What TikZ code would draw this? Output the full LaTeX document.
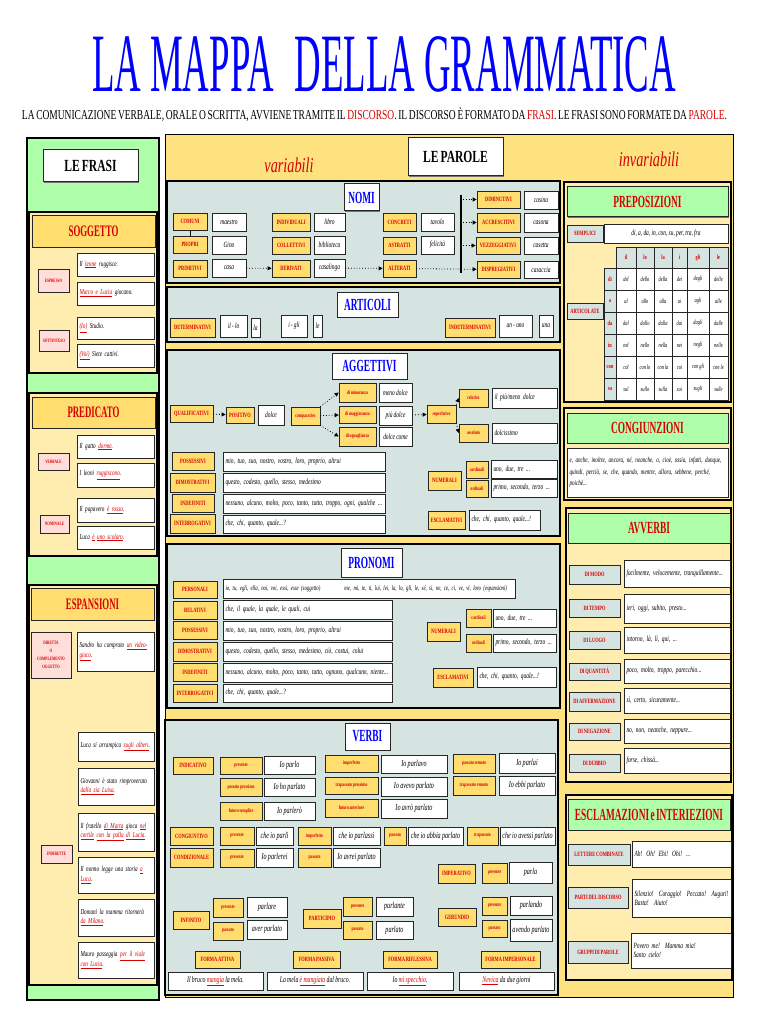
\documentclass[tikz,border=0pt]{standalone}
\usepackage{fontspec}
\setmainfont{Liberation Serif}[FakeStretch=0.68, WordSpace=0.7]
\newfontfamily\hdfont{Liberation Serif}[FakeStretch=0.55, WordSpace=0.6]
\usepackage{graphicx}
\usetikzlibrary{arrows.meta,shadows}
\definecolor{rosso}{RGB}{215,0,0}
\definecolor{verde}{RGB}{175,255,170}
\definecolor{giallo}{RGB}{255,226,128}
\definecolor{giallino}{RGB}{255,236,175}
\definecolor{gialloet}{RGB}{255,221,110}
\definecolor{grigio}{RGB}{214,228,225}
\definecolor{rosa}{RGB}{255,222,218}
\newcommand{\rdu}[1]{\textcolor{rosso}{\underline{#1}}}
\newcommand{\corsivo}[2]{\fontsize{#1}{#2}\selectfont\itshape\spaceskip=0.15em plus 0.08em minus 0.03em\relax}
\newcommand{\bx}[7]{\pgfmathsetmacro{\bw}{#5-#3}\pgfmathsetmacro{\bh}{#6-#4}%
  \node[#1, minimum width=\bw pt, minimum height=\bh pt] (#2) at ({(#3+#5)/2},{(#4+#6)/2}) {#7};}
\newcommand{\bxl}[7]{\pgfmathsetmacro{\bw}{#5-#3-5}\pgfmathsetmacro{\bh}{#6-#4}%
  \node[#1, align=left, inner xsep=2.5pt, text width=\bw pt, minimum height=\bh pt] (#2) at ({(#3+#5)/2},{(#4+#6)/2}) {#7};}

\begin{document}
\begin{tikzpicture}[x=1pt, y=-1pt,
  ombra/.style={drop shadow={shadow xshift=1pt, shadow yshift=-1pt, opacity=1, fill=black!55}},
  pannello/.style={draw=black, line width=1.2pt, ombra},
  etic/.style={draw=black!85, line width=0.7pt, fill=gialloet, text=rosso, inner sep=0pt, align=center, ombra, font=\fontsize{6.5}{7}\selectfont\bfseries},
  eticm/.style={etic, font=\fontsize{5.5}{6}\selectfont\bfseries},
  eticr/.style={etic, fill=rosa, font=\fontsize{5}{8}\selectfont\bfseries},
  eticg/.style={etic, fill=grigio, font=\fontsize{6.5}{7}\selectfont\bfseries},
  cella/.style={draw=black!85, line width=0.8pt, fill=grigio, text=rosso, inner sep=0pt, font=\fontsize{6.5}{7}\selectfont\bfseries},
  casella/.style={cella, fill=white, text=black, font=\corsivo{6.5}{7}},
  bianco/.style={draw=black!85, line width=0.7pt, fill=white, inner sep=0pt, align=center, ombra, font=\corsivo{8}{9}},
  biancov/.style={bianco, font=\corsivo{9}{10}},
  forma/.style={bianco, font=\corsivo{8.5}{9}},
  esempio/.style={bianco, font=\corsivo{7.6}{9.5}},
  testo/.style={bianco, font=\corsivo{7.5}{11.5}},
  titbox/.style={bianco, line width=1pt, font=\fontsize{17}{17}\selectfont\bfseries},
  sezione/.style={bianco, line width=1pt, text=blue, font=\hdfont\fontsize{17}{17}\selectfont\bfseries},
  fascia/.style={etic, line width=1pt, font=\hdfont\fontsize{16}{16}\selectfont\bfseries},
  fasciav/.style={fascia, fill=verde, font=\hdfont\fontsize{17}{17}\selectfont\bfseries},
  freccia/.style={dotted, line width=0.8pt, -{Triangle[length=4pt, width=4pt]}}]
  \useasboundingbox (0,0) rectangle (768,1024);
  \fill[white] (0,0) rectangle (768,1024);
  \node[anchor=base, text=blue, inner sep=0pt] (titolo) at (384,92)
    {\resizebox{584pt}{\height}{\fontsize{83}{83}\selectfont LA\hspace{14pt}MAPPA\hspace{32pt}DELLA\hspace{14pt}GRAMMATICA}};
  \node[anchor=base, inner sep=0pt] (intro) at (374.5,120)
    {\resizebox{705pt}{\height}{\fontsize{13.6}{14}\selectfont LA COMUNICAZIONE VERBALE, ORALE O SCRITTA, AVVIENE TRAMITE IL \textcolor{rosso}{DISCORSO}. IL DISCORSO È FORMATO DA \textcolor{rosso}{FRASI}. LE FRASI SONO FORMATE DA \textcolor{rosso}{PAROLE}.}};

  \draw[pannello, fill=verde] (27,138) rectangle (159,1000);
  \bx{titbox}{frasi}{43}{150}{138}{182}{LE FRASI}
  \draw[pannello, fill=giallino] (29,212) rectangle (157,373);
  \bx{fascia}{sogg}{32}{216}{155}{247}{SOGGETTO}
  \bx{eticr}{espr}{38}{269}{69}{292}{ESPRESSO}
  \bx{eticr}{sott}{39}{330}{69}{351}{SOTTINTESO}
  \bxl{esempio}{s1}{77}{253}{154}{276}{Il \rdu{leone} ruggisce.}
  \bxl{esempio}{s2}{77}{282}{154}{305}{\rdu{Marco e Lucia} giocano.}
  \bxl{esempio}{s3}{77}{317}{154}{339}{\rdu{(Io)} Studio.}
  \bxl{esempio}{s4}{77}{344}{154}{367}{\rdu{(Voi)} Siete cattivi.}
  \draw[pannello, fill=giallino] (29,393) rectangle (157,556);
  \bx{fascia}{pred}{32}{397}{155}{428}{PREDICATO}
  \bx{eticr}{verb}{38}{453}{69}{470}{VERBALE}
  \bx{eticr}{nomin}{40}{515}{69}{533}{NOMINALE}
  \bxl{esempio}{p1}{77}{435}{154}{458}{Il gatto \rdu{dorme}.}
  \bxl{esempio}{p2}{77}{463}{154}{487}{I leoni \rdu{ruggiscono}.}
  \bxl{esempio}{p3}{77}{498}{154}{522}{Il papavero \rdu{è rosso}.}
  \bxl{esempio}{p4}{77}{526}{154}{549}{Luca \rdu{è} \rdu{uno scolaro}.}
  \draw[pannello, fill=giallino] (29,585) rectangle (157,985);
  \bx{fascia}{espan}{31}{588}{154}{620}{ESPANSIONI}
  \bx{eticr}{dirett}{31}{632}{71}{678}{DIRETTA\\O\\COMPLEMENTO\\OGGETTO}
  \bx{eticr}{indir}{41}{845}{72}{863}{INDIRETTE}
  \bxl{esempio}{e1}{77}{632}{154}{671}{Sandro ha comprato \rdu{un video-}\\\rdu{gioco}.}
  \bxl{esempio}{e2}{78}{732}{154}{761}{Luca si arrampica \rdu{sugli alberi}.}
  \bxl{esempio}{e3}{78}{768}{154}{805}{Giovanni è stato rimproverato\\\rdu{dalla zia Luisa}.}
  \bxl{esempio}{e4}{78}{813}{154}{851}{Il fratello \rdu{di Marta} gioca \rdu{nel}\\\rdu{cortile} \rdu{con la palla} \rdu{di Lucia}.}
  \bxl{esempio}{e5}{78}{857}{154}{893}{Il nonno legge una storia \rdu{a}\\\rdu{Luca}.}
  \bxl{esempio}{e6}{78}{899}{154}{936}{Domani la mamma ritornerà\\\rdu{da Milano}.}
  \bxl{esempio}{e7}{78}{942}{154}{978}{Mauro passeggia \rdu{per il viale}\\\rdu{con Lucia}.}

  \draw[pannello, line width=1pt, fill=giallo] (165,135) rectangle (733,997);
  \node[text=rosso, font=\corsivo{21}{21}] (variab) at (289,165) {variabili};
  \node[text=rosso, font=\corsivo{21}{21}] (invariab) at (649,159) {invariabili};
  \bx{titbox}{parole}{408}{138}{503}{176}{LE PAROLE}

  \draw[pannello, fill=grigio] (167,181) rectangle (560,283);
  \bx{sezione}{nomi}{344}{184}{379}{211}{NOMI}
  \bx{etic}{comuni}{173}{213}{207}{230}{COMUNI}
  \bx{etic}{propri}{173}{236}{207}{253}{PROPRI}
  \bx{etic}{primit}{173}{260}{207}{277}{PRIMITIVI}
  \bx{bianco}{maestro}{212}{213}{246}{231}{maestro}
  \bx{bianco}{gino}{212}{236}{246}{254}{Gino}
  \bx{bianco}{casa}{212}{259}{246}{277}{casa}
  \bx{etic}{indiv}{272}{213}{310}{231}{INDIVIDUALI}
  \bx{etic}{collet}{272}{237}{310}{254}{COLLETTIVI}
  \bx{etic}{deriv}{272}{260}{310}{277}{DERIVATI}
  \bx{bianco}{libro}{314}{213}{345}{231}{libro}
  \bx{bianco}{bibl}{314}{236}{345}{254}{biblioteca}
  \bx{bianco}{casal}{314}{259}{345}{277}{casalinga}
  \bx{etic}{concr}{383}{213}{416}{231}{CONCRETI}
  \bx{etic}{astr}{383}{237}{416}{254}{ASTRATTI}
  \bx{etic}{alter}{383}{260}{416}{277}{ALTERATI}
  \bx{bianco}{tavolo}{421}{213}{454}{231}{tavolo}
  \bx{bianco}{felic}{421}{236}{454}{254}{felicità}
  \bx{etic}{dimin}{477}{191}{520}{208}{DIMINUTIVI}
  \bx{etic}{accr}{477}{213}{520}{232}{ACCRESCITIVI}
  \bx{etic}{vezz}{476}{237}{520}{254}{VEZZEGGIATIVI}
  \bx{etic}{dispr}{477}{261}{520}{278}{DISPREGIATIVI}
  \bx{bianco}{casina}{524}{191}{558}{209}{casina}
  \bx{bianco}{casona}{524}{213}{558}{232}{casona}
  \bx{bianco}{casetta}{524}{237}{558}{254}{casetta}
  \bx{bianco}{casaccia}{524}{261}{558}{278}{casaccia}
  \coordinate (barsu) at (461,195);
  \coordinate (bargiu) at (461,273);
  \draw[line width=1.2pt] (barsu) -- (bargiu);
  \draw[line width=0.8pt] (comuni) -- (propri);
  \draw[freccia] (casa) -- (deriv);
  \draw[freccia] (casal) -- (alter);
  \draw[freccia] (alter) -- (dispr);
  \draw[freccia] ([xshift=2pt]barsu |- dimin) -- (dimin);
  \draw[freccia] ([xshift=2pt]barsu |- accr) -- (accr);
  \draw[freccia] ([xshift=2pt]barsu |- vezz) -- (vezz);

  \draw[pannello, fill=grigio] (167,287) rectangle (560,342);
  \bx{sezione}{artic}{337}{292}{398}{317}{ARTICOLI}
  \bx{etic}{determ}{170}{318}{215}{337}{DETERMINATIVI}
  \bx{bianco}{illo}{220}{315}{247}{337}{il - lo}
  \bx{bianco}{la}{251}{318}{260}{337}{la}
  \bx{bianco}{igli}{281}{315}{307}{337}{i - gli}
  \bx{bianco}{le}{313}{315}{322}{337}{le}
  \bx{etic}{indet}{445}{318}{495}{337}{INDETERMINATIVI}
  \bx{bianco}{ununo}{499}{315}{532}{337}{un - uno}
  \bx{bianco}{una}{539}{315}{553}{337}{una}

  \draw[pannello, fill=grigio] (167,350) rectangle (560,536);
  \bx{sezione}{agg}{332}{353}{407}{379}{AGGETTIVI}
  \bx{etic}{qualif}{170}{405}{213}{422}{QUALIFICATIVI}
  \bx{etic}{posit}{226}{407}{254}{423}{POSITIVO}
  \bx{bianco}{dolce}{258}{405}{284}{425}{dolce}
  \bx{eticm}{compar}{291}{407}{320}{425}{comparativo}
  \bx{eticm}{minor}{339}{383}{376}{402}{di minoranza}
  \bx{bianco}{menod}{379}{383}{412}{402}{meno dolce}
  \bx{eticm}{maggi}{339}{406}{376}{423}{di maggioranza}
  \bx{bianco}{piud}{379}{406}{412}{425}{più dolce}
  \bx{eticm}{ugua}{339}{427}{376}{446}{di uguaglianza}
  \bx{bianco}{dolcec}{379}{427}{412}{446}{dolce come}
  \bx{eticm}{superl}{427}{405}{456}{423}{superlativo}
  \bx{eticm}{relat}{459}{389}{488}{407}{relativo}
  \bxl{bianco}{piumeno}{492}{388}{557}{408}{il più/meno dolce}
  \bx{eticm}{assol}{459}{424}{488}{442}{assoluto}
  \bxl{bianco}{dolciss}{492}{423}{557}{443}{dolcissimo}
  \draw[freccia] (qualif) -- (posit);
  \draw[freccia] (compar.north east) -- (minor.west);
  \draw[freccia] (compar) -- (maggi);
  \draw[freccia] (compar.south east) -- (ugua.west);
  \draw[freccia] (piud) -- (superl);
  \draw[freccia] (superl.north east) -- (relat.west);
  \draw[freccia] (superl.south east) -- (assol.west);
  \bx{etic}{apos}{172}{452}{214}{470}{POSSESSIVI}
  \bxl{bianco}{aposw}{223}{452}{385}{471}{mio, tuo, suo, nostro, vostro, loro, proprio, altrui}
  \bx{etic}{adim}{170}{473}{215}{492}{DIMOSTRATIVI}
  \bxl{bianco}{adimw}{223}{473}{385}{492}{questo, codesto, quello, stesso, medesimo}
  \bx{etic}{aind}{172}{494}{214}{512}{INDEFINITI}
  \bxl{bianco}{aindw}{223}{494}{385}{513}{nessuno, alcuno, molto, poco, tanto, tutto, troppo, ogni, qualche ...}
  \bx{etic}{aint}{170}{514}{215}{533}{INTERROGATIVI}
  \bxl{bianco}{aintw}{223}{515}{385}{533}{che, chi, quanto, quale...?}
  \bx{eticm}{acard}{466}{461}{488}{478}{cardinali}
  \bxl{bianco}{acardw}{491}{460}{557}{478}{uno, due, tre ...}
  \bx{etic}{anum}{428}{471}{461}{490}{NUMERALI}
  \bx{eticm}{aord}{466}{480}{488}{497}{ordinali}
  \bxl{bianco}{aordw}{491}{479}{557}{497}{primo, secondo, terzo ...}
  \bx{etic}{aescl}{428}{511}{465}{529}{ESCLAMATIVI}
  \bxl{bianco}{aesclw}{469}{510}{540}{530}{che, chi, quanto, quale...!}

  \draw[pannello, fill=grigio] (167,544) rectangle (560,708);
  \bx{sezione}{pron}{341}{548}{402}{577}{PRONOMI}
  \bx{etic}{ppers}{173}{581}{217}{598}{PERSONALI}
  \bxl{bianco, font=\corsivo{7}{8}}{ppersw}{223}{579}{515}{598}{io, tu, egli, ella, noi, voi, essi, esse (soggetto)\hspace{24pt}me, mi, te, ti, lui, lei, la, lo, gli, le, sé, si, ne, ce, ci, ve, vi, loro (espansioni)}
  \bx{etic}{prel}{173}{601}{217}{619}{RELATIVI}
  \bxl{bianco}{prelw}{223}{600}{392}{619}{che, il quale, la quale, le quali, cui}
  \bx{etic}{ppos}{173}{621}{217}{639}{POSSESSIVI}
  \bxl{bianco}{pposw}{223}{621}{392}{640}{mio, tuo, suo, nostro, vostro, loro, proprio, altrui}
  \bx{etic}{pdim}{173}{642}{217}{661}{DIMOSTRATIVI}
  \bxl{bianco}{pdimw}{223}{642}{392}{661}{questo, codesto, quello, stesso, medesimo, ciò, costui, colui}
  \bx{etic}{pind}{173}{663}{217}{681}{INDEFINITI}
  \bxl{bianco}{pindw}{223}{663}{392}{682}{nessuno, alcuno, molto, poco, tanto, tutto, ognuno, qualcuno, niente...}
  \bx{etic}{pint}{173}{684}{217}{702}{INTERROGATIVI}
  \bxl{bianco}{pintw}{223}{684}{392}{702}{che, chi, quanto, quale...?}
  \bx{eticm}{pcard}{466}{609}{491}{627}{cardinali}
  \bxl{bianco}{pcardw}{493}{609}{556}{627}{uno, due, tre ...}
  \bx{etic}{pnum}{427}{622}{460}{641}{NUMERALI}
  \bx{eticm}{pord}{466}{634}{491}{652}{ordinali}
  \bxl{bianco}{pordw}{493}{634}{556}{652}{primo, secondo, terzo ...}
  \bx{etic}{pescl}{433}{668}{473}{687}{ESCLAMATIVI}
  \bxl{bianco}{pesclw}{477}{667}{556}{687}{che, chi, quanto, quale...!}

  \draw[pannello, fill=grigio] (165,720) rectangle (558,995);
  \bx{sezione}{verbi}{345}{723}{390}{750}{VERBI}
  \bx{etic}{indic}{173}{757}{213}{774}{INDICATIVO}
  \bx{eticm}{ipres}{220}{757}{262}{774}{presente}
  \bx{biancov}{ipresw}{264}{756}{315}{774}{Io parlo}
  \bx{eticm}{ipp}{220}{778}{262}{796}{passato prossimo}
  \bx{biancov}{ippw}{264}{778}{315}{796}{Io ho parlato}
  \bx{eticm}{ifs}{220}{802}{262}{820}{futuro semplice}
  \bx{biancov}{ifsw}{264}{802}{315}{820}{Io parlerò}
  \bx{eticm}{iimp}{325}{755}{378}{772}{imperfetto}
  \bx{biancov}{iimpw}{381}{755}{447}{773}{Io parlavo}
  \bx{eticm}{itp}{325}{777}{378}{794}{trapassato prossimo}
  \bx{biancov}{itpw}{381}{777}{447}{796}{Io avevo parlato}
  \bx{eticm}{ifa}{325}{799}{378}{817}{futuro anteriore}
  \bx{biancov}{ifaw}{381}{799}{447}{818}{Io avrò parlato}
  \bx{eticm}{ipr}{453}{754}{495}{773}{passato remoto}
  \bx{biancov}{iprw}{499}{753}{555}{773}{Io parlai}
  \bx{eticm}{itr}{453}{776}{495}{795}{trapassato remoto}
  \bx{biancov}{itrw}{499}{776}{555}{795}{Io ebbi parlato}
  \bx{etic}{cong}{170}{827}{213}{845}{CONGIUNTIVO}
  \bx{eticm}{cpres}{220}{827}{254}{845}{presente}
  \bx{biancov}{cpresw}{256}{827}{293}{845}{che io parli}
  \bx{eticm}{cimp}{298}{827}{331}{845}{imperfetto}
  \bx{biancov}{cimpw}{333}{827}{380}{845}{che io parlassi}
  \bx{eticm}{cpass}{384}{827}{406}{845}{passato}
  \bx{biancov}{cpassw}{408}{827}{463}{845}{che io abbia parlato}
  \bx{eticm}{ctrap}{467}{827}{498}{845}{trapassato}
  \bx{biancov}{ctrapw}{500}{827}{555}{845}{che io avessi parlato}
  \bx{etic}{cond}{170}{848}{213}{867}{CONDIZIONALE}
  \bx{eticm}{dpres}{220}{849}{254}{867}{presente}
  \bx{biancov}{dpresw}{256}{848}{293}{867}{Io parlerei}
  \bx{eticm}{dpass}{298}{848}{331}{867}{passato}
  \bx{biancov}{dpassw}{333}{848}{380}{867}{Io avrei parlato}
  \bx{etic}{imper}{438}{864}{475}{883}{IMPERATIVO}
  \bx{eticm}{mpres}{482}{863}{507}{883}{presente}
  \bx{biancov}{mpresw}{509}{862}{552}{883}{parla}
  \bx{etic}{infin}{173}{911}{209}{929}{INFINITO}
  \bx{eticm}{npres}{213}{898}{243}{917}{presente}
  \bx{biancov}{npresw}{247}{897}{287}{917}{parlare}
  \bx{eticm}{npass}{213}{922}{243}{940}{passato}
  \bx{biancov}{npassw}{247}{920}{287}{939}{aver parlato}
  \bx{etic}{partic}{303}{909}{341}{928}{PARTICIPIO}
  \bx{eticm}{tpres}{343}{897}{372}{916}{presente}
  \bx{biancov}{tpresw}{376}{897}{413}{916}{parlante}
  \bx{eticm}{tpass}{343}{921}{372}{939}{passato}
  \bx{biancov}{tpassw}{376}{921}{413}{939}{parlato}
  \bx{etic}{gerun}{438}{908}{476}{926}{GERUNDIO}
  \bx{eticm}{gpres}{482}{897}{507}{915}{presente}
  \bx{biancov}{gpresw}{510}{896}{552}{915}{parlando}
  \bx{eticm}{gpass}{482}{920}{507}{937}{passato}
  \bx{biancov}{gpassw}{510}{919}{552}{941}{avendo parlato}
  \bx{etic}{fatt}{195}{951}{240}{968}{FORMA ATTIVA}
  \bx{etic}{fpas}{293}{951}{340}{968}{FORMA PASSIVA}
  \bx{etic}{frif}{383}{951}{437}{968}{FORMA RIFLESSIVA}
  \bx{etic}{fimp}{481}{951}{540}{968}{FORMA IMPERSONALE}
  \bx{forma}{fattw}{168}{972}{263}{990}{Il bruco \rdu{mangia} la mela.}
  \bx{forma}{fpasw}{267}{972}{363}{990}{La mela \rdu{è mangiata} dal bruco.}
  \bx{forma}{frifw}{367}{972}{453}{990}{Io \rdu{mi specchio}.}
  \bx{forma}{fimpw}{459}{972}{554}{990}{\rdu{Nevica} da due giorni}

  \draw[pannello, fill=giallino] (564,182) rectangle (731,402);
  \bx{fasciav}{prep}{567}{187}{728}{217}{PREPOSIZIONI}
  \bx{eticg}{sempl}{567}{225}{603}{242}{SEMPLICI}
  \bx{bianco}{semplw}{604}{224}{728}{243}{di, a, da, in, con, su, per, tra, fra}
  \bx{eticg}{artcl}{567}{303}{603}{319}{ARTICOLATE}
  \foreach \h [count=\ci] in {il,lo,la,i,gli,le}{
    \pgfmathsetmacro{\xa}{{616,636,654,672,687,709,728}[\ci-1]}
    \pgfmathsetmacro{\xb}{{616,636,654,672,687,709,728}[\ci]}
    \bx{cella}{h\ci}{\xa}{247}{\xb}{268}{\h}
  }
  \foreach \p/\ws [count=\ri] in {di/{del,dello,della,dei,degli,delle}, a/{al,allo,alla,ai,agli,alle}, da/{dal,dallo,dalla,dai,dagli,dalle}, in/{nel,nello,nella,nei,negli,nelle}, con/{col,con lo,con la,coi,con gli,con le}, su/{sul,sullo,sulla,sui,sugli,sulle}}{
    \pgfmathsetmacro{\ya}{268+22*(\ri-1)}
    \pgfmathsetmacro{\yb}{\ya+22}
    \bx{cella}{r\ri}{604}{\ya}{616}{\yb}{\p}
    \foreach \w [count=\ci] in \ws {
      \pgfmathsetmacro{\xa}{{616,636,654,672,687,709,728}[\ci-1]}
      \pgfmathsetmacro{\xb}{{616,636,654,672,687,709,728}[\ci]}
      \bx{casella}{c\ri-\ci}{\xa}{\ya}{\xb}{\yb}{\w}
    }
  }

  \draw[pannello, fill=giallino] (564,408) rectangle (731,500);
  \bx{fasciav}{congz}{567}{413}{728}{443}{CONGIUNZIONI}
  \bxl{testo}{congw}{567}{448}{728}{497}{e, anche, inoltre, ancora, né, neanche, o, cioè, ossia, infatti, dunque,\\ quindi, perciò, se, che, quando, mentre, allora, sebbene, perché,\\ poiché...}

  \draw[pannello, fill=giallino] (566,508) rectangle (731,782);
  \bx{fasciav}{avv}{568}{513}{730}{543}{AVVERBI}
  \bx{eticg}{amodo}{569}{565}{620}{584}{DI MODO}
  \bxl{bianco}{amodow}{624}{560}{730}{587}{facilmente, velocemente, tranquillamente...}
  \bx{eticg}{atempo}{569}{599}{620}{617}{DI TEMPO}
  \bxl{bianco}{atempow}{624}{594}{730}{623}{ieri, oggi, subito, presto...}
  \bx{eticg}{aluogo}{569}{631}{620}{649}{DI LUOGO}
  \bxl{bianco}{aluogow}{624}{627}{730}{653}{intorno, là, lì, qui, ...}
  \bx{eticg}{aquant}{569}{663}{620}{680}{DI QUANTITÀ}
  \bxl{bianco}{aquantw}{624}{659}{730}{683}{poco, molto, troppo, parecchio...}
  \bx{eticg}{affer}{569}{692}{620}{711}{DI AFFERMAZIONE}
  \bxl{bianco}{afferw}{624}{688}{730}{713}{sì, certo, sicuramente...}
  \bx{eticg}{anegaz}{569}{723}{620}{740}{DI NEGAZIONE}
  \bxl{bianco}{anegazw}{624}{719}{730}{743}{no, non, neanche, neppure...}
  \bx{eticg}{adubbio}{569}{754}{620}{772}{DI DUBBIO}
  \bxl{bianco}{adubbiow}{624}{748}{730}{773}{forse, chissà...}

  \draw[pannello, fill=giallino] (566,795) rectangle (732,980);
  \bx{fasciav}{escl}{568}{799}{730}{830}{ESCLAMAZIONI e INTERIEZIONI}
  \bx{eticg}{lett}{568}{844}{630}{865}{LETTERE COMBINATE}
  \bxl{bianco}{lettw}{632}{841}{731}{867}{Ah! Oh! Ehi! Ohi! ...}
  \bx{eticg}{parti}{568}{887}{628}{908}{PARTI DEL DISCORSO}
  \bxl{bianco}{partiw}{632}{879}{731}{917}{Silenzio!\ \ Coraggio!\ \ Peccato!\ \ Auguri!\\ Basta!\ \ Aiuto!}
  \bx{eticg}{grup}{568}{941}{628}{963}{GRUPPI DI PAROLE}
  \bxl{bianco}{grupw}{631}{933}{731}{968}{Povero me!\ \ Mamma mia!\\ Santo cielo!}
\end{tikzpicture}
\end{document}
